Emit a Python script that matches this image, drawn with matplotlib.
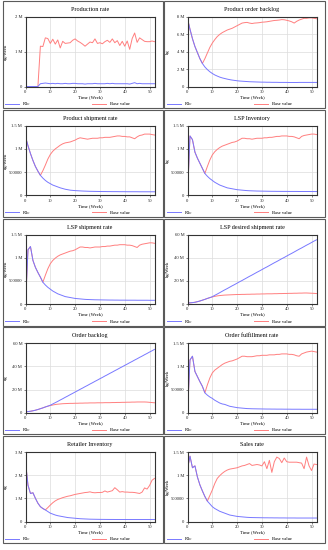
import matplotlib
matplotlib.use('Agg')
import matplotlib.pyplot as plt
from matplotlib.patches import Rectangle

plt.rcParams['font.family'] = ['Liberation Serif', 'DejaVu Serif']

# Simulation output, values in millions (M)
weeks = list(range(53))

prod_r1c = [0, 0, 0, 0, 0, 0, 0.08, 0.09, 0.10, 0.09,
            0.08, 0.09, 0.08, 0.09, 0.08, 0.08, 0.09, 0.08, 0.08, 0.09,
            0.09, 0.08, 0.08, 0.08, 0.07, 0.08, 0.08, 0.08, 0.09, 0.08,
            0.08, 0.08, 0.08, 0.09, 0.08, 0.09, 0.08, 0.08, 0.08, 0.08,
            0.08, 0.08, 0.07, 0.09, 0.11, 0.08, 0.09, 0.08, 0.08, 0.08,
            0.08, 0.08, 0.08]
prod_base = [0, 0, 0, 0, 0, 0, 1.16, 1.15, 1.40, 1.38,
             1.24, 1.36, 1.22, 1.34, 1.11, 1.30, 1.24, 1.25, 1.26, 1.33,
             1.37, 1.31, 1.27, 1.22, 1.16, 1.22, 1.28, 1.26, 1.37, 1.24,
             1.26, 1.23, 1.29, 1.33, 1.27, 1.37, 1.26, 1.32, 1.18, 1.30,
             1.16, 1.31, 1.07, 1.38, 1.54, 1.27, 1.40, 1.35, 1.30, 1.29,
             1.29, 1.31, 1.29]

pob_r1c = [7.8, 6.6, 5.5, 4.6, 3.9, 3.2, 2.65, 2.25, 1.95, 1.7,
           1.5, 1.33, 1.2, 1.08, 0.99, 0.92, 0.85, 0.79, 0.74, 0.7,
           0.66, 0.63, 0.61, 0.59, 0.57, 0.55, 0.54, 0.53, 0.52, 0.51,
           0.5, 0.5, 0.49, 0.49, 0.48, 0.48, 0.48, 0.47, 0.47, 0.47,
           0.47, 0.46, 0.46, 0.46, 0.46, 0.47, 0.47, 0.47, 0.47, 0.47,
           0.47, 0.47, 0.47]
pob_base = [7.8, 6.6, 5.5, 4.6, 3.9, 3.2, 2.65, 3.2, 3.85, 4.5,
            5.0, 5.4, 5.75, 6.0, 6.2, 6.35, 6.5, 6.6, 6.7, 6.85,
            7.0, 7.15, 7.3, 7.35, 7.38, 7.3, 7.25, 7.3, 7.32, 7.35,
            7.4, 7.42, 7.45, 7.5, 7.55, 7.6, 7.62, 7.65, 7.7, 7.68,
            7.62, 7.55, 7.45, 7.3, 7.5, 7.65, 7.75, 7.85, 7.85, 7.9,
            7.9, 7.85, 7.8]

ship_r1c = [1.26, 1.07, 0.9, 0.75, 0.62, 0.52, 0.43, 0.37, 0.32, 0.28,
            0.25, 0.22, 0.2, 0.18, 0.16, 0.145, 0.13, 0.12, 0.11, 0.105,
            0.1, 0.097, 0.094, 0.091, 0.089, 0.087, 0.085, 0.084, 0.083, 0.082,
            0.081, 0.08, 0.08, 0.079, 0.079, 0.078, 0.078, 0.078, 0.077, 0.077,
            0.077, 0.076, 0.076, 0.076, 0.076, 0.076, 0.075, 0.075, 0.075, 0.075,
            0.075, 0.075, 0.075]
ship_base = [1.26, 1.07, 0.9, 0.75, 0.62, 0.52, 0.43, 0.53, 0.65, 0.78,
             0.88, 0.95, 1.0, 1.04, 1.08, 1.11, 1.13, 1.14, 1.15, 1.17,
             1.19, 1.22, 1.24, 1.23, 1.22, 1.21, 1.22, 1.23, 1.23, 1.23,
             1.24, 1.24, 1.25, 1.25, 1.25, 1.26, 1.27, 1.28, 1.28, 1.27,
             1.27, 1.26, 1.26, 1.24, 1.22, 1.26, 1.29, 1.3, 1.32, 1.32,
             1.32, 1.31, 1.3]

lspinv_r1c = [0, 1.28, 1.2, 0.93, 0.8, 0.69, 0.58, 0.47, 0.41, 0.36,
              0.32, 0.28, 0.25, 0.22, 0.2, 0.18, 0.16, 0.15, 0.14, 0.13,
              0.12, 0.115, 0.11, 0.105, 0.1, 0.097, 0.095, 0.093, 0.091, 0.09,
              0.089, 0.088, 0.087, 0.086, 0.085, 0.085, 0.084, 0.084, 0.083, 0.083,
              0.083, 0.082, 0.082, 0.082, 0.082, 0.081, 0.081, 0.081, 0.081, 0.081,
              0.08, 0.08, 0.08]
lspinv_base = [0, 1.28, 1.2, 0.93, 0.8, 0.69, 0.58, 0.47, 0.62, 0.76,
               0.87, 0.94, 0.99, 1.03, 1.06, 1.08, 1.1, 1.12, 1.14, 1.15,
               1.17, 1.2, 1.23, 1.23, 1.22, 1.22, 1.21, 1.22, 1.23, 1.23,
               1.23, 1.24, 1.24, 1.25, 1.25, 1.26, 1.27, 1.27, 1.28, 1.28,
               1.28, 1.27, 1.27, 1.26, 1.24, 1.22, 1.27, 1.29, 1.3, 1.31,
               1.32, 1.32, 1.31]

lspship_r1c = [0, 1.17, 1.24, 0.94, 0.79, 0.68, 0.58, 0.47, 0.41, 0.36,
               0.32, 0.28, 0.25, 0.22, 0.2, 0.18, 0.16, 0.15, 0.14, 0.13,
               0.12, 0.115, 0.11, 0.105, 0.1, 0.097, 0.095, 0.093, 0.091, 0.09,
               0.089, 0.088, 0.087, 0.086, 0.085, 0.085, 0.084, 0.084, 0.083, 0.083,
               0.083, 0.082, 0.082, 0.082, 0.082, 0.081, 0.081, 0.081, 0.081, 0.081,
               0.08, 0.08, 0.08]
lspship_base = [0, 1.17, 1.24, 0.94, 0.79, 0.68, 0.58, 0.47, 0.62, 0.76,
                0.87, 0.94, 0.99, 1.03, 1.06, 1.08, 1.1, 1.12, 1.14, 1.15,
                1.17, 1.2, 1.23, 1.23, 1.22, 1.22, 1.21, 1.22, 1.23, 1.23,
                1.23, 1.24, 1.24, 1.25, 1.25, 1.26, 1.27, 1.27, 1.28, 1.28,
                1.28, 1.27, 1.27, 1.26, 1.24, 1.22, 1.27, 1.29, 1.3, 1.31,
                1.32, 1.32, 1.31]

desired_r1c = [0.9, 1.0, 1.2, 1.5, 2.0, 2.6, 3.3, 4.0, 4.8, 5.5,
               6.3, 7.5, 8.6, 9.8, 11.0, 12.2, 13.3, 14.5, 15.7, 16.8,
               18.0, 19.2, 20.3, 21.5, 22.7, 23.9, 25.0, 26.2, 27.4, 28.5,
               29.7, 30.9, 32.0, 33.2, 34.4, 35.6, 36.7, 37.9, 39.1, 40.2,
               41.4, 42.6, 43.7, 44.9, 46.1, 47.3, 48.4, 49.6, 50.8, 51.9,
               53.1, 54.3, 55.4]
desired_base = [0.9, 1.0, 1.2, 1.5, 2.0, 2.6, 3.3, 4.0, 4.8, 5.5,
                6.1, 6.6, 7.0, 7.3, 7.5, 7.7, 7.8, 7.9, 8.0, 8.1,
                8.2, 8.2, 8.3, 8.3, 8.4, 8.4, 8.5, 8.5, 8.6, 8.6,
                8.7, 8.7, 8.8, 8.8, 8.8, 8.9, 8.9, 9.0, 9.0, 9.1,
                9.1, 9.2, 9.2, 9.3, 9.3, 9.4, 9.4, 9.5, 9.5, 9.4,
                9.3, 9.2, 9.0]

ob_r1c = [0.8, 1.0, 1.3, 1.7, 2.2, 2.8, 3.5, 4.2, 5.0, 5.7,
          6.5, 7.6, 8.7, 9.8, 11.0, 12.1, 13.3, 14.4, 15.6, 16.7,
          17.9, 19.0, 20.2, 21.3, 22.5, 23.6, 24.8, 25.9, 27.1, 28.2,
          29.4, 30.5, 31.7, 32.8, 34.0, 35.1, 36.3, 37.4, 38.6, 39.7,
          40.9, 42.0, 43.2, 44.3, 45.5, 46.6, 47.8, 48.9, 50.1, 51.2,
          52.4, 53.5, 54.7]
ob_base = [0.8, 1.0, 1.3, 1.7, 2.2, 2.8, 3.5, 4.2, 5.0, 5.7,
           6.2, 6.7, 7.1, 7.4, 7.6, 7.8, 7.9, 8.0, 8.1, 8.1,
           8.2, 8.2, 8.3, 8.3, 8.4, 8.4, 8.5, 8.5, 8.5, 8.6,
           8.6, 8.6, 8.7, 8.7, 8.7, 8.8, 8.8, 8.9, 8.9, 9.0,
           9.0, 9.1, 9.1, 9.2, 9.2, 9.3, 9.3, 9.3, 9.3, 9.2,
           9.0, 8.8, 8.6]

fulfil_r1c = [0, 1.14, 1.22, 0.89, 0.78, 0.67, 0.57, 0.43, 0.38, 0.34,
              0.31, 0.27, 0.24, 0.21, 0.19, 0.18, 0.16, 0.14, 0.13, 0.12,
              0.11, 0.105, 0.1, 0.095, 0.09, 0.088, 0.086, 0.085, 0.084, 0.083,
              0.082, 0.081, 0.08, 0.08, 0.079, 0.079, 0.078, 0.078, 0.078, 0.077,
              0.077, 0.077, 0.076, 0.076, 0.076, 0.076, 0.075, 0.075, 0.075, 0.075,
              0.075, 0.075, 0.075]
fulfil_base = [0, 1.14, 1.22, 0.89, 0.78, 0.67, 0.57, 0.43, 0.6, 0.75,
               0.86, 0.92, 0.96, 1.0, 1.04, 1.07, 1.09, 1.11, 1.12, 1.14,
               1.16, 1.19, 1.22, 1.22, 1.21, 1.21, 1.21, 1.22, 1.23, 1.23,
               1.24, 1.24, 1.24, 1.25, 1.25, 1.25, 1.26, 1.26, 1.27, 1.27,
               1.27, 1.26, 1.26, 1.25, 1.23, 1.22, 1.27, 1.29, 1.31, 1.32,
               1.33, 1.32, 1.31]

retail_r1c = [2.57, 1.57, 1.21, 1.24, 1.0, 0.79, 0.64, 0.56, 0.5, 0.43,
              0.36, 0.32, 0.28, 0.25, 0.23, 0.21, 0.19, 0.17, 0.16, 0.15,
              0.14, 0.13, 0.12, 0.115, 0.11, 0.105, 0.1, 0.098, 0.096, 0.094,
              0.092, 0.091, 0.09, 0.089, 0.088, 0.088, 0.087, 0.087, 0.086, 0.086,
              0.086, 0.085, 0.085, 0.085, 0.085, 0.085, 0.085, 0.085, 0.085, 0.085,
              0.085, 0.085, 0.085]
retail_base = [2.57, 1.57, 1.21, 1.24, 1.0, 0.79, 0.64, 0.56, 0.5, 0.6,
               0.71, 0.81, 0.89, 0.95, 0.99, 1.03, 1.06, 1.09, 1.11, 1.14,
               1.17, 1.19, 1.21, 1.23, 1.25, 1.26, 1.28, 1.25, 1.24, 1.25,
               1.25, 1.26, 1.32, 1.27, 1.3, 1.33, 1.46, 1.37, 1.27, 1.29,
               1.27, 1.27, 1.26, 1.26, 1.25, 1.23, 1.21, 1.27, 1.45, 1.4,
               1.55, 1.78, 1.86]

sales_r1c = [1.14, 1.41, 1.16, 1.2, 0.96, 0.79, 0.66, 0.54, 0.44, 0.38,
             0.32, 0.28, 0.25, 0.22, 0.2, 0.18, 0.16, 0.14, 0.13, 0.12,
             0.11, 0.105, 0.1, 0.095, 0.09, 0.087, 0.085, 0.084, 0.083, 0.082,
             0.081, 0.08, 0.08, 0.079, 0.079, 0.078, 0.078, 0.077, 0.077, 0.077,
             0.076, 0.076, 0.076, 0.076, 0.075, 0.075, 0.075, 0.075, 0.075, 0.075,
             0.075, 0.075, 0.075]
sales_base = [1.14, 1.41, 1.16, 1.2, 0.96, 0.79, 0.66, 0.54, 0.44, 0.56,
              0.68, 0.82, 0.93, 0.99, 1.04, 1.08, 1.11, 1.13, 1.14, 1.15,
              1.16, 1.18, 1.2, 1.21, 1.23, 1.25, 1.21, 1.22, 1.23, 1.22,
              1.2, 1.29, 1.14, 1.32, 1.06, 1.29, 1.39, 1.36, 1.27, 1.37,
              1.29, 1.28, 1.28, 1.28, 1.28, 1.27, 1.26, 1.14, 1.39, 1.2,
              1.1, 1.24, 1.23]

titles = ['Production rate', 'Product order backlog', 'Product shipment rate',
          'LSP Inventory', 'LSP shipment rate', 'LSP desired shipment rate',
          'Order backlog', 'Order fulfillment rate', 'Retailer Inventory', 'Sales rate']
units = ['kg/Week', 'kg', 'kg/Week', 'kg', 'kg/Week',
         'kg/Week', 'kg', 'kg/Week', 'kg', 'kg/Week']
r1c_series = [prod_r1c, pob_r1c, ship_r1c, lspinv_r1c, lspship_r1c,
              desired_r1c, ob_r1c, fulfil_r1c, retail_r1c, sales_r1c]
base_series = [prod_base, pob_base, ship_base, lspinv_base, lspship_base,
               desired_base, ob_base, fulfil_base, retail_base, sales_base]

ticks_2m = ([0, 1, 2], ['0', '1 M', '2 M'])
ticks_8m = ([0, 2, 4, 6, 8], ['0', '2 M', '4 M', '6 M', '8 M'])
ticks_15m = ([0, 0.5, 1, 1.5], ['0', '500000', '1 M', '1.5 M'])
ticks_60m = ([0, 20, 40, 60], ['0', '20 M', '40 M', '60 M'])
ticks_3m = ([0, 1, 2, 3], ['0', '1 M', '2 M', '3 M'])
yticks = [ticks_2m, ticks_8m, ticks_15m, ticks_15m, ticks_15m,
          ticks_60m, ticks_60m, ticks_15m, ticks_3m, ticks_15m]

blue = '#7878ff'
red = '#ff7f7f'

W, H = 328, 550
fig = plt.figure(figsize=(W / 100, H / 100), dpi=100)

# layout in pixels
panel_x = [2.5, 164.5]
panel_w = 160
axes_x = [25.5, 187.5]
axes_w = 129
pitch = 108.75
panel_h = 107

for i in range(10):
    row, col = divmod(i, 2)
    top = 1 + row * pitch

    fig.patches.append(Rectangle((panel_x[col] / W, 1 - (top + panel_h) / H),
                                 panel_w / W, panel_h / H, transform=fig.transFigure,
                                 fill=False, edgecolor='#5a5a5a', lw=0.8))

    ax = fig.add_axes([axes_x[col] / W, 1 - (top + 85.5) / H, axes_w / W, 69.5 / H])
    lb, = ax.plot(weeks, base_series[i], color=red, lw=0.7)
    lr, = ax.plot(weeks, r1c_series[i], color=blue, lw=0.7)

    ax.set_xlim(0, 52)
    ax.set_xticks([0, 10, 20, 30, 40, 50])
    ax.set_ylim(yticks[i][0][0], yticks[i][0][-1])
    ax.set_yticks(yticks[i][0])
    ax.set_yticklabels(yticks[i][1])
    ax.grid(color='#dcdcdc', lw=0.5)
    ax.tick_params(labelsize=3.3, length=1.2, width=0.4, pad=1.2, colors='#222222')
    for s in ax.spines.values():
        s.set_color('#333333')
        s.set_linewidth(0.8)

    ax.text(0.5, 1 + 7.5 / 69.5, titles[i], transform=ax.transAxes,
            ha='center', va='center', fontsize=4.4)
    ax.set_xlabel('Time (Week)', fontsize=3.4)
    ax.xaxis.set_label_coords(0.5, -8.5 / 69.5)
    ax.set_ylabel(units[i], fontsize=3.3)
    ax.yaxis.set_label_coords(-17.5 / 129, 0.5)

    ax.legend([lr, lb], ['R1c', 'Base value'], loc='center left',
              bbox_to_anchor=((panel_x[col] + 2.5) / W, 1 - (top + 103) / H),
              bbox_transform=fig.transFigure, ncol=2, frameon=False,
              fontsize=3.3, handlelength=3.0, handletextpad=0.9,
              columnspacing=13.5, borderpad=0, borderaxespad=0)

fig.savefig('out.png', dpi=100)
